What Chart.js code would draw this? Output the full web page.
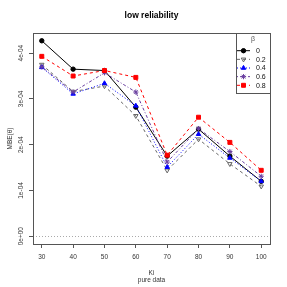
<!DOCTYPE html>
<html lang="en">
<head>
    <meta charset="UTF-8">
    <title>low reliability</title>
    <script src="https://cdn.jsdelivr.net/npm/chart.js@4/dist/chart.umd.min.js"></script>
    <style>
        html, body { margin: 0; padding: 0; background: #fff; }
        #wrap { width: 287px; height: 287px; }
    </style>
</head>
<body>
    <div id="wrap"><canvas id="mbeChart" width="287" height="287"></canvas></div>

    <script>
        // values
        const ki = [30, 40, 50, 60, 70, 80, 90, 100];
        const betaLabels = ['0', '0.2', '0.4', '0.6', '0.8'];
        const mbe0  = [4.27e-4, 3.65e-4, 3.62e-4, 2.82e-4, 1.75e-4, 2.34e-4, 1.75e-4, 1.20e-4];
        const mbe02 = [3.75e-4, 3.16e-4, 3.28e-4, 2.63e-4, 1.44e-4, 2.12e-4, 1.58e-4, 1.09e-4];
        const mbe04 = [3.69e-4, 3.11e-4, 3.34e-4, 2.85e-4, 1.51e-4, 2.23e-4, 1.71e-4, 1.20e-4];
        const mbe06 = [3.70e-4, 3.15e-4, 3.57e-4, 3.15e-4, 1.62e-4, 2.35e-4, 1.85e-4, 1.31e-4];
        const mbe08 = [3.93e-4, 3.50e-4, 3.62e-4, 3.47e-4, 1.77e-4, 2.60e-4, 2.05e-4, 1.44e-4];
        const xTicks = [30, 40, 50, 60, 70, 80, 90, 100];
        const yTicks = [0, 1e-4, 2e-4, 3e-4, 4e-4];
        const yTickLabels = ['0e+00', '1e-04', '2e-04', '3e-04', '4e-04'];

        const seriesValues = [mbe0, mbe02, mbe04, mbe06, mbe08];
        const colors = ['#000000', '#666666', '#0000ff', '#6a3fa0', '#ff0000'];
        const dashes = [[], [3, 3], [1, 2], [1, 2, 3, 2], [3, 3]];
        const shapes = ['circle', 'triangle', 'triangle', 'star', 'rect'];
        const fills  = ['#000000', 'rgba(0,0,0,0)', '#0000ff', '#6a3fa0', '#ff0000'];
        const rots   = [0, 180, 0, 0, 0];
        const radii  = [2.2, 2.6, 2.6, 2.6, 2.8];

        const FONT = "'Liberation Sans', Arial, sans-serif";

        const datasets = seriesValues.map((vals, i) => ({
            label: betaLabels[i],
            data: vals.map((v, j) => ({ x: ki[j], y: v })),
            borderColor: colors[i],
            borderWidth: 1,
            borderDash: dashes[i],
            pointStyle: shapes[i],
            pointRotation: rots[i],
            pointRadius: radii[i],
            pointBackgroundColor: fills[i],
            pointBorderColor: colors[i],
            pointBorderWidth: 1,
            showLine: true,
            fill: false,
            tension: 0,
            order: 4 - i
        }));

        // box, zero line, title, rotated y labels and legend
        const decorations = {
            id: 'decorations',
            beforeDatasetsDraw(chart) {
                const { ctx, chartArea, scales } = chart;
                const y0 = scales.y.getPixelForValue(0);
                ctx.save();
                ctx.strokeStyle = '#aaaaaa';
                ctx.lineWidth = 1;
                ctx.setLineDash([1, 2]);
                ctx.beginPath();
                ctx.moveTo(chartArea.left, Math.round(y0) + 0.5);
                ctx.lineTo(chartArea.right, Math.round(y0) + 0.5);
                ctx.stroke();
                ctx.restore();
            },
            afterDraw(chart) {
                const { ctx, chartArea, scales } = chart;
                ctx.save();
                // plot frame
                ctx.strokeStyle = '#555555';
                ctx.lineWidth = 1;
                ctx.strokeRect(chartArea.left + 0.5, chartArea.top + 0.5,
                    chartArea.right - chartArea.left, chartArea.bottom - chartArea.top);

                // main title
                ctx.fillStyle = '#000';
                ctx.font = 'bold 8.5px ' + FONT;
                ctx.textAlign = 'center';
                ctx.textBaseline = 'middle';
                ctx.fillText('low reliability', (chartArea.left + chartArea.right) / 2, 16);

                // y tick labels, vertical like in R
                ctx.font = '6.5px ' + FONT;
                ctx.fillStyle = '#333';
                scales.y.ticks.forEach((t, i) => {
                    const py = scales.y.getPixelForValue(t.value);
                    ctx.save();
                    ctx.translate(21, py);
                    ctx.rotate(-Math.PI / 2);
                    ctx.fillText(yTickLabels[i], 0, 0);
                    ctx.restore();
                });

                // legend in the top-right corner
                const lx = 236, ly = chartArea.top, lw = chartArea.right - 236, lh = 60;
                ctx.fillStyle = '#fff';
                ctx.fillRect(lx, ly, lw, lh);
                ctx.strokeStyle = '#555555';
                ctx.strokeRect(lx + 0.5, ly + 0.5, lw, lh);
                ctx.fillStyle = '#555';
                ctx.font = '7px ' + FONT;
                ctx.fillText('\u03b2', lx + lw / 2, ly + 6);
                chart.data.datasets.forEach((ds, i) => {
                    const ey = ly + 17.7 + i * 8.65;
                    ctx.save();
                    ctx.strokeStyle = ds.borderColor;
                    ctx.lineWidth = 1;
                    ctx.setLineDash(ds.borderDash);
                    ctx.beginPath();
                    ctx.moveTo(lx + 1, ey);
                    ctx.lineTo(lx + 14, ey);
                    ctx.stroke();
                    ctx.setLineDash([]);
                    ctx.fillStyle = ds.pointBackgroundColor;
                    ctx.strokeStyle = ds.pointBorderColor;
                    Chart.helpers.drawPoint(ctx, {
                        pointStyle: ds.pointStyle,
                        rotation: ds.pointRotation,
                        radius: ds.pointRadius,
                        borderWidth: 1
                    }, lx + 7.5, ey);
                    ctx.restore();
                    ctx.fillStyle = '#111';
                    ctx.textAlign = 'left';
                    ctx.fillText(ds.label, lx + 20, ey + 0.5);
                    ctx.textAlign = 'center';
                });
                ctx.restore();
            }
        };

        const ctx = document.getElementById('mbeChart').getContext('2d');
        const mbeChart = new Chart(ctx, {
            type: 'scatter',
            data: { datasets: datasets },
            options: {
                responsive: false,
                animation: false,
                layout: { padding: { left: 0, right: 17, top: 33, bottom: 0 } },
                plugins: {
                    legend: { display: false },
                    tooltip: { enabled: false }
                },
                scales: {
                    x: {
                        type: 'linear',
                        min: 27.2,
                        max: 102.8,
                        afterFit: (scale) => { scale.height = 43; },
                        afterBuildTicks: (scale) => { scale.ticks = xTicks.map(v => ({ value: v })); },
                        grid: { drawOnChartArea: false, drawTicks: true, tickLength: 4, color: '#555555' },
                        border: { display: false },
                        ticks: {
                            font: { family: FONT, size: 6.5 },
                            color: '#333',
                            padding: 5,
                            maxRotation: 0,
                            autoSkip: false
                        },
                        title: {
                            display: true,
                            text: ['Ki', 'pure data'],
                            font: { family: FONT, size: 6.5, lineHeight: 1.1 },
                            color: '#333',
                            padding: { top: 0, bottom: 3.5 }
                        }
                    },
                    y: {
                        type: 'linear',
                        min: -0.17e-4,
                        max: 4.44e-4,
                        afterFit: (scale) => { scale.width = 33; },
                        afterBuildTicks: (scale) => { scale.ticks = yTicks.map(v => ({ value: v })); },
                        grid: { drawOnChartArea: false, drawTicks: true, tickLength: 4, color: '#555555' },
                        border: { display: false },
                        ticks: { display: false },
                        title: {
                            display: true,
                            text: 'MBE(\u03b8)',
                            font: { family: FONT, size: 6.5, lineHeight: 1.2 },
                            color: '#333',
                            padding: { top: 6, bottom: 0 }
                        }
                    }
                }
            },
            plugins: [decorations]
        });
    </script>
</body>
</html>
